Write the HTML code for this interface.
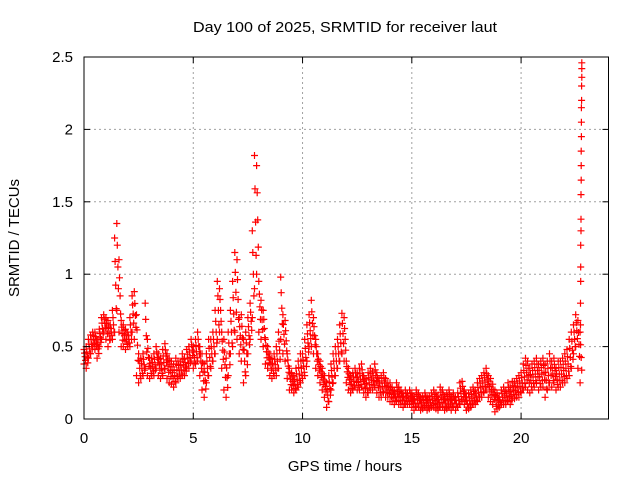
<!DOCTYPE html>
<html><head><meta charset="utf-8"><style>
body{margin:0;background:#fff;}
svg text{font-family:"Liberation Sans",sans-serif;font-size:15px;fill:#000;}
</style></head><body>
<svg id="chart" width="640" height="480" viewBox="0 0 640 480" xmlns="http://www.w3.org/2000/svg">
<rect width="640" height="480" fill="#fff"/>
<g id="grid"></g>
<g id="marks"></g>
<rect x="84" y="57" width="524.5" height="362" fill="none" stroke="#000" stroke-width="1"/>
<g id="ticks"></g>
<text x="345" y="32" text-anchor="middle" textLength="304" lengthAdjust="spacingAndGlyphs">Day 100 of 2025, SRMTID for receiver laut</text>
<text x="345" y="471" text-anchor="middle">GPS time / hours</text>
<text x="19" y="238" text-anchor="middle" transform="rotate(-90 19 238)">SRMTID / TECUs</text>
</svg>
<script>
const xTicks=[0,5,10,15,20];
const yTicks=[0,0.5,1,1.5,2,2.5];
const yTickLabels=["0","0.5","1","1.5","2","2.5"];
const hiVals=[.48,.5,.55,.58,.6,.6,.55,.62,.7,.72,
.7,.68,.65,.75,1.25,1.35,1.1,.68,.65,.62,
.6,.7,.85,.88,.72,.45,.42,.45,.8,.55,
.42,.42,.45,.5,.45,.42,.48,.52,.45,.42,
.4,.38,.42,.4,.4,.45,.42,.48,.5,.55,
.5,.55,.6,.5,.45,.38,.45,.55,.55,.6,
.75,.95,.9,.6,.55,.42,.6,.75,.95,1.15,
1.1,.7,.72,.55,.6,.7,.8,1.3,1.82,1.75,
.95,.82,.75,.55,.5,.45,.42,.45,.5,.6,
.98,.72,.68,.45,.35,.32,.3,.35,.4,.45,
.45,.55,.65,.72,.82,.7,.55,.45,.4,.35,
.3,.25,.3,.38,.45,.5,.55,.65,.73,.7,
.4,.35,.3,.32,.35,.32,.35,.38,.3,.28,
.32,.35,.33,.38,.32,.28,.3,.32,.28,.25,
.25,.22,.2,.25,.22,.2,.18,.2,.18,.2,
.18,.16,.2,.18,.15,.16,.18,.15,.16,.18,
.2,.18,.16,.22,.2,.16,.18,.2,.16,.18,
.15,.18,.25,.26,.2,.15,.18,.2,.22,.2,
.25,.28,.3,.32,.35,.3,.28,.24,.2,.18,
.15,.2,.22,.2,.25,.22,.26,.25,.28,.3,
.32,.38,.42,.4,.35,.38,.4,.42,.38,.4,
.42,.38,.4,.45,.4,.42,.35,.4,.4,.42,
.45,.48,.55,.6,.65,.72,.68,.6];
const loVals=[.38,.35,.42,.45,.5,.48,.42,.5,.55,.6,
.55,.5,.55,.55,.6,.75,.6,.5,.5,.48,
.5,.5,.6,.55,.3,.25,.28,.3,.35,.3,
.28,.3,.3,.35,.3,.28,.3,.35,.28,.25,
.24,.22,.25,.28,.28,.3,.3,.35,.35,.4,
.35,.38,.4,.3,.2,.15,.25,.3,.35,.4,
.45,.55,.6,.35,.2,.15,.3,.45,.5,.6,
.55,.45,.4,.25,.3,.45,.55,.7,.9,1.0,
.6,.55,.5,.38,.35,.3,.28,.3,.3,.35,
.55,.45,.4,.28,.2,.2,.18,.2,.22,.25,
.28,.3,.4,.5,.5,.45,.35,.3,.25,.2,
.15,.08,.12,.2,.25,.3,.35,.4,.45,.4,
.25,.2,.18,.2,.22,.2,.2,.22,.18,.15,
.18,.2,.2,.22,.18,.15,.15,.18,.15,.15,
.12,.12,.1,.12,.1,.1,.08,.1,.1,.1,
.08,.06,.08,.08,.06,.07,.08,.06,.07,.08,
.08,.07,.06,.08,.08,.06,.07,.08,.06,.08,
.06,.08,.1,.12,.1,.06,.07,.08,.1,.1,
.12,.15,.15,.18,.2,.15,.12,.1,.05,.07,
.08,.1,.1,.1,.12,.1,.14,.14,.15,.15,
.18,.2,.22,.2,.18,.2,.22,.25,.2,.22,
.22,.15,.2,.25,.22,.25,.2,.22,.22,.25,
.25,.28,.3,.35,.45,.5,.35,.25];
const tailTimes=[22.72,22.72,22.73,22.73,22.73,22.74,22.74,22.74,22.75,22.75,22.75,22.76,22.76,22.76,22.77,22.77,22.78,22.78,22.78];
const tailVals=[.65,.8,.95,1.05,1.2,1.3,1.38,1.55,1.65,1.75,1.85,1.95,2.05,2.15,2.2,2.3,2.36,2.42,2.46];
const timeStep=0.1;
const NS='http://www.w3.org/2000/svg';
const X0=84,X1=608.5,Y0=419,Y1=57,XMAX=24,YMAX=2.5;
function xs(t){return X0+t/XMAX*(X1-X0);}
function ys(v){return Y0-v/YMAX*(Y0-Y1);}
const grid=document.getElementById('grid'),ticks=document.getElementById('ticks'),marks=document.getElementById('marks');
function mk(tag,attrs,parent){const e=document.createElementNS(NS,tag);for(const k in attrs)e.setAttribute(k,attrs[k]);parent.appendChild(e);return e;}
xTicks.forEach((t,i)=>{const x=xs(t);
 if(i>0){const g=mk('line',{x1:x,x2:x,y1:Y0,y2:Y1,stroke:'#a0a0a0','stroke-dasharray':'2,3'},grid);
 
 }
 mk('line',{x1:x,x2:x,y1:Y0,y2:Y0-6,stroke:'#000'},ticks);
 mk('line',{x1:x,x2:x,y1:Y1,y2:Y1+6,stroke:'#000'},ticks);
 const l=mk('text',{x:x,y:443,'text-anchor':'middle'},ticks);l.textContent=String(t);
 
 });
yTicks.forEach((v,i)=>{const y=ys(v);
 if(i>0&&i<yTicks.length-1){const g=mk('line',{x1:X0,x2:X1,y1:y,y2:y,stroke:'#a0a0a0','stroke-dasharray':'2,3'},grid);
 
 }
 mk('line',{x1:X0,x2:X0+6,y1:y,y2:y,stroke:'#000'},ticks);
 mk('line',{x1:X1,x2:X1-6,y1:y,y2:y,stroke:'#000'},ticks);
 const l=mk('text',{x:73,y:y+5,'text-anchor':'end'},ticks);l.textContent=yTickLabels[i];
 
 });
let d='';
function plus(t,v){const x=xs(t),y=ys(v);d+=`M${(x-3.5).toFixed(1)} ${y.toFixed(1)}h7M${x.toFixed(1)} ${(y-3.5).toFixed(1)}v7`;}
hiVals.forEach((v,i)=>{const t=i*timeStep;const lo=loVals[i];
 plus(t,v);plus(t,lo);plus(t+timeStep/2,(v+lo)/2);plus(t+timeStep/4,v*0.75+lo*0.25);plus(t+timeStep*0.75,v*0.25+lo*0.75);});
tailVals.forEach((v,i)=>plus(tailTimes[i],v));
const p=mk('path',{d:d,stroke:'#ff0000','stroke-width':'1.2',fill:'none'},marks);


</script>
</body></html>
